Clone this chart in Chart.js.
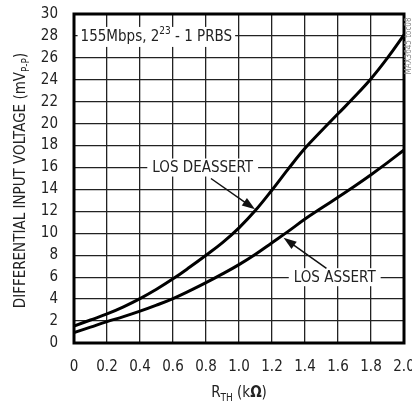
<!DOCTYPE html>
<html>
<head>
<meta charset="utf-8">
<script src="https://cdn.jsdelivr.net/npm/chart.js@4/dist/chart.umd.min.js"></script>
<style>
  html, body { margin: 0; padding: 0; background: #fff; }
  #wrap { width: 412px; height: 404px; position: relative; }
</style>
</head>
<body>
<div id="wrap"><canvas id="c"></canvas></div>
<script>
// R_TH (kOhm) and the two threshold curves (mVp-p)
const rth      = [0, 0.1, 0.2, 0.3, 0.4, 0.5, 0.6, 0.7, 0.8, 0.9, 1.0, 1.1, 1.2, 1.3, 1.4, 1.5, 1.6, 1.7, 1.8, 1.9, 2.0];
const deassert = [1.55, 2.1, 2.65, 3.3, 4.05, 4.9, 5.85, 6.9, 8.0, 9.15, 10.5, 12.1, 13.95, 15.9, 17.75, 19.35, 20.9, 22.45, 24.1, 26.0, 28.1];
const assert   = [0.95, 1.45, 1.95, 2.4, 2.9, 3.45, 4.05, 4.75, 5.5, 6.3, 7.15, 8.1, 9.15, 10.2, 11.3, 12.3, 13.3, 14.3, 15.35, 16.45, 17.6];
const xTicks = [0, 0.2, 0.4, 0.6, 0.8, 1.0, 1.2, 1.4, 1.6, 1.8, 2.0];

const FONT = '"Liberation Sans Narrow", "DejaVu Sans Condensed", sans-serif';

// callouts in data units: label centre, arrow start, arrow tip
const callouts = [
  {text: 'LOS DEASSERT', at: [0.78, 16], from: [0.83, 15.0], to: [1.097, 12.2]},
  {text: 'LOS ASSERT', at: [1.58, 6], from: [1.53, 6.8], to: [1.27, 9.6]},
];

const pts = (ys) => rth.map((x, i) => ({x, y: ys[i]}));

function arrow(ctx, x1, y1, x2, y2) {
  const a = Math.atan2(y2 - y1, x2 - x1);
  const len = 13, half = 4.5;
  ctx.beginPath();
  ctx.moveTo(x1, y1);
  ctx.lineTo(x2 - Math.cos(a) * len * 0.8, y2 - Math.sin(a) * len * 0.8);
  ctx.lineWidth = 1.5;
  ctx.stroke();
  ctx.beginPath();
  ctx.moveTo(x2, y2);
  ctx.lineTo(x2 - Math.cos(a) * len - Math.sin(a) * half, y2 - Math.sin(a) * len + Math.cos(a) * half);
  ctx.lineTo(x2 - Math.cos(a) * len + Math.sin(a) * half, y2 - Math.sin(a) * len - Math.cos(a) * half);
  ctx.closePath();
  ctx.fill();
}

// draw a run of [text, font, dy] pieces starting at x
function runs(ctx, pieces, x, y) {
  pieces.forEach(([s, f, dy]) => {
    ctx.font = f + 'px ' + FONT;
    ctx.fillText(s, x, y + dy);
    x += ctx.measureText(s).width;
  });
}
function runsWidth(ctx, pieces) {
  return pieces.reduce((w, [s, f]) => { ctx.font = f + 'px ' + FONT; return w + ctx.measureText(s).width; }, 0);
}

const decor = {
  id: 'decor',
  afterDraw(chart) {
    const {ctx, chartArea: ca, scales: {x, y}} = chart;
    ctx.save();
    ctx.fillStyle = '#111';
    ctx.strokeStyle = '#111';

    // callout labels with white boxes over the grid
    ctx.textBaseline = 'middle';
    ctx.textAlign = 'center';
    callouts.forEach((c) => {
      const cx = x.getPixelForValue(c.at[0]), cy = y.getPixelForValue(c.at[1]);
      ctx.font = '15px ' + FONT;
      const w = ctx.measureText(c.text).width;
      ctx.fillStyle = '#fff';
      ctx.fillRect(cx - w / 2 - 5, cy - 9, w + 10, 18);
      ctx.fillStyle = '#222';
      ctx.fillText(c.text, cx, cy + 1);
      ctx.fillStyle = '#111';
      arrow(ctx, x.getPixelForValue(c.from[0]), y.getPixelForValue(c.from[1]),
        x.getPixelForValue(c.to[0]), y.getPixelForValue(c.to[1]));
    });

    // condition box top left
    ctx.textAlign = 'left';
    const tx = x.getPixelForValue(0.04), ty = y.getPixelForValue(28);
    const cond = [['155Mbps, 2', 15, 0], ['23', 10, -6], [' - 1 PRBS', 15, 0]];
    const tw = runsWidth(ctx, cond);
    ctx.fillStyle = '#fff';
    ctx.fillRect(tx - 3, ty - 9, tw + 6, 20);
    ctx.fillStyle = '#222';
    runs(ctx, cond, tx, ty + 1);

    // frame
    ctx.lineWidth = 3;
    ctx.strokeStyle = '#000';
    ctx.strokeRect(ca.left, ca.top, ca.right - ca.left, ca.bottom - ca.top);

    // x title: R_TH (kΩ)
    ctx.fillStyle = '#222';
    ctx.textBaseline = 'alphabetic';
    const xt = [['R', 15, 0], ['TH', 10, 4], [' (k', 15, 0], ['Ω', 'bold 15', 0], [')', 15, 0]];
    runs(ctx, xt, (ca.left + ca.right) / 2 - runsWidth(ctx, xt) / 2, 397);

    // y title, rotated
    ctx.translate(25, (ca.top + ca.bottom) / 2 + 2);
    ctx.rotate(-Math.PI / 2);
    const yt = [['DIFFERENTIAL INPUT VOLTAGE (mV', 15, 0], ['P-P', 10, 4], [')', 15, 0]];
    runs(ctx, yt, -runsWidth(ctx, yt) / 2, 0);
    ctx.restore();

    // figure id at right edge
    ctx.save();
    ctx.translate(411, 46);
    ctx.rotate(-Math.PI / 2);
    ctx.font = '8px ' + FONT;
    ctx.fillStyle = '#888';
    ctx.textAlign = 'center';
    ctx.fillText('MAX3645 toc08', 0, 0);
    ctx.restore();
  },
};

const line = (data) => ({
  data, borderColor: '#000', borderWidth: 3, pointRadius: 0,
  tension: 0.4, fill: false,
});

new Chart(document.getElementById('c'), {
  type: 'line',
  data: {datasets: [line(pts(deassert)), line(pts(assert))]},
  options: {
    responsive: true,
    maintainAspectRatio: false,
    animation: false,
    layout: {padding: {top: 14, right: 8, left: 0, bottom: 0}},
    plugins: {legend: {display: false}, tooltip: {enabled: false}},
    scales: {
      x: {
        type: 'linear', min: 0, max: 2,
        afterBuildTicks: (s) => { s.ticks = xTicks.map((v) => ({value: v})); },
        afterFit: (s) => { s.height = 61; s.paddingLeft = 0; s.paddingRight = 0; },
        grid: {color: '#222', lineWidth: 1.3, drawTicks: false},
        border: {display: false},
        ticks: {
          color: '#222', padding: 15, maxRotation: 0, autoSkip: false,
          font: {family: FONT, size: 15},
          callback: (v) => (v === 0 ? '0' : v.toFixed(1)),
        },
      },
      y: {
        min: 0, max: 30,
        afterFit: (s) => { s.width = 74; s.paddingTop = 0; s.paddingBottom = 0; },
        grid: {color: '#222', lineWidth: 1.3, drawTicks: false},
        border: {display: false},
        ticks: {
          stepSize: 2, color: '#222', padding: 16, autoSkip: false,
          font: {family: FONT, size: 15},
        },
      },
    },
  },
  plugins: [decor],
});
</script>
</body>
</html>
